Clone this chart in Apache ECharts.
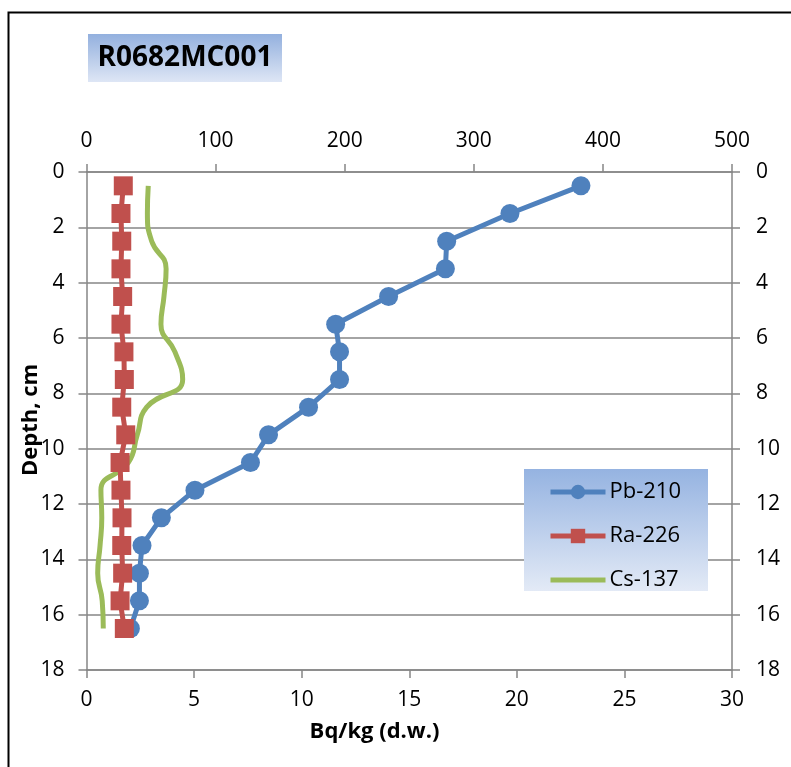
<!DOCTYPE html>
<html>
<head>
<meta charset="utf-8">
<script src="https://cdn.jsdelivr.net/npm/echarts@6/dist/echarts.min.js"></script>
<style>
html,body{margin:0;padding:0;background:#fff;}
#chart{width:791px;height:767px;}
</style>
</head>
<body>
<div id="chart"></div>
<script>
// Depths (cm) of each sample
const depths = [0.5,1.5,2.5,3.5,4.5,5.5,6.5,7.5,8.5,9.5,10.5,11.5,12.5,13.5,14.5,15.5,16.5];
// Pb-210 (top axis, Bq/kg)
const pb210 = [383,328,279,278,234,193,196,196,172,141,127,84,58,43,41,41,34];
// Ra-226 (top axis, Bq/kg)
const ra226 = [28.5,26.7,27.3,26.7,28,26.7,29,29.3,27.3,30.4,26,26.7,27.5,27.3,28,26,29.3];
// Cs-137 (bottom axis, Bq/kg)
const cs137 = [2.87,2.83,3.03,3.7,3.6,3.46,4.11,4.47,2.8,2.36,1.95,0.67,0.71,0.63,0.52,0.73,0.78];

const titleText = 'R0682MC001';
const xTitle = 'Bq/kg (d.w.)';
const yTitle = 'Depth, cm';

const pair = (vals) => vals.map((v, i) => [v, depths[i]]);

const FONT = 'Open Sans';
const gray = '#868686';

const chart = echarts.init(document.getElementById('chart'), null, {renderer: 'canvas'});

const axisCommon = {
  axisLine: {show: true, onZero: false, lineStyle: {color: gray, width: 1.5}},
  axisTick: {show: true, length: 8, lineStyle: {color: gray, width: 1.5}},
  splitLine: {show: false},
  axisLabel: {color: '#000', fontFamily: FONT, fontSize: 21}
};

const option = {
  animation: false,
  backgroundColor: '#fff',
  grid: {left: 86.5, right: 59, top: 172, bottom: 97, containLabel: false},
  xAxis: [
    Object.assign({}, axisCommon, {
      type: 'value', position: 'top', min: 0, max: 500, interval: 100,
      axisLabel: Object.assign({}, axisCommon.axisLabel, {margin: 20})
    }),
    Object.assign({}, axisCommon, {
      type: 'value', position: 'bottom', min: 0, max: 30, interval: 5,
      axisLabel: Object.assign({}, axisCommon.axisLabel, {margin: 20})
    })
  ],
  yAxis: [
    Object.assign({}, axisCommon, {
      type: 'value', position: 'left', min: 0, max: 18, interval: 2, inverse: true,
      splitLine: {show: true, lineStyle: {color: gray, width: 1.5}},
      axisLabel: Object.assign({}, axisCommon.axisLabel, {margin: 22})
    }),
    Object.assign({}, axisCommon, {
      type: 'value', position: 'right', min: 0, max: 18, interval: 2, inverse: true,
      axisLabel: Object.assign({}, axisCommon.axisLabel, {margin: 24})
    })
  ],
  legend: {
    left: 548, top: 481, orient: 'vertical', padding: 0,
    itemWidth: 55, itemHeight: 18, itemGap: 22,
    lineStyle: {width: 5},
    textStyle: {fontFamily: FONT, fontSize: 22, color: '#000', padding: [0, 0, 0, -1]},
    data: ['Pb-210', 'Ra-226', {name: 'Cs-137', itemStyle: {opacity: 0}}],
    z: 10
  },
  graphic: [
    {type: 'rect', z: 100, shape: {x: 8.5, y: 12.5, width: 900, height: 900},
     style: {fill: 'none', stroke: '#000', lineWidth: 2}},
    {type: 'rect', z: 5, shape: {x: 88, y: 34, width: 194, height: 48},
     style: {fill: new echarts.graphic.LinearGradient(0, 0, 0, 1, [
       {offset: 0, color: '#93b0de'}, {offset: 1, color: '#dee6f5'}])}},
    {type: 'text', z: 6, x: 185, y: 58,
     style: {text: titleText, fontFamily: FONT, fontWeight: 'bold', fontSize: 28,
             fill: '#000', textAlign: 'center', textVerticalAlign: 'middle'}},
    {type: 'rect', z: 5, shape: {x: 524, y: 469, width: 184, height: 122},
     style: {fill: new echarts.graphic.LinearGradient(0, 0, 0, 1, [
       {offset: 0, color: '#95b3e1'}, {offset: 1, color: '#e3eaf6'}])}},
    {type: 'text', z: 6, x: 374.5, y: 732,
     style: {text: xTitle, fontFamily: FONT, fontWeight: 'bold', fontSize: 22,
             fill: '#000', textAlign: 'center', textVerticalAlign: 'middle'}},
    {type: 'text', z: 6, x: 31, y: 420, rotation: Math.PI / 2,
     style: {text: yTitle, fontFamily: FONT, fontWeight: 'bold', fontSize: 22,
             fill: '#000', textAlign: 'center', textVerticalAlign: 'middle'}}
  ],
  series: [
    {
      name: 'Cs-137', type: 'line', xAxisIndex: 1, yAxisIndex: 0,
      data: pair(cs137), smooth: 0.5, showSymbol: false, symbol: 'none',
      lineStyle: {color: '#9BBB59', width: 5}, itemStyle: {color: '#9BBB59'}, z: 2
    },
    {
      name: 'Pb-210', type: 'line', xAxisIndex: 0, yAxisIndex: 0,
      data: pair(pb210), symbol: 'circle', symbolSize: 19,
      lineStyle: {color: '#4F81BD', width: 5}, itemStyle: {color: '#4F81BD'}, z: 3
    },
    {
      name: 'Ra-226', type: 'line', xAxisIndex: 0, yAxisIndex: 0,
      data: pair(ra226), symbol: 'rect', symbolSize: 19,
      lineStyle: {color: '#C0504D', width: 5}, itemStyle: {color: '#C0504D'}, z: 4
    }
  ]
};
chart.setOption(option);
</script>
</body>
</html>
